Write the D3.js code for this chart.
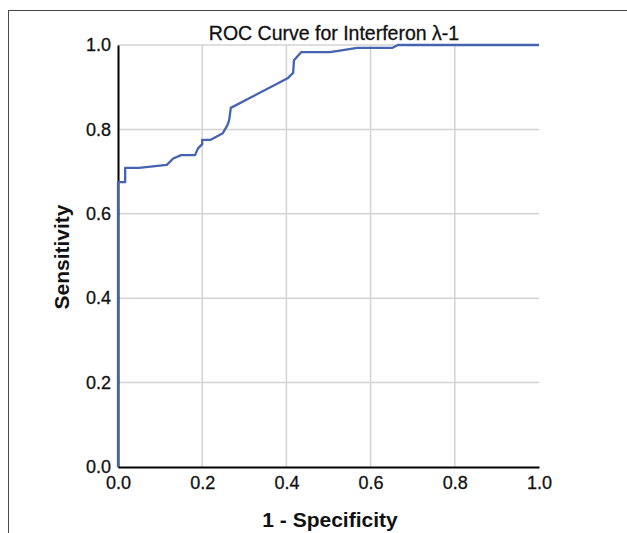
<!DOCTYPE html>
<html>
<head>
<meta charset="utf-8">
<script src="https://cdn.jsdelivr.net/npm/d3@7"></script>
<style>
  html, body { margin: 0; padding: 0; background: #fff; }
  svg { display: block; font-family: "Liberation Sans", Arial, sans-serif; }
</style>
</head>
<body>
<svg id="chart" width="627" height="533"></svg>
<script>
// ROC curve: false positive rate (1 - specificity) vs. true positive rate (sensitivity)
const fpr = [0, 0, 0.017, 0.017, 0.05, 0.116, 0.131, 0.150, 0.183, 0.190, 0.200, 0.200, 0.219, 0.249, 0.260, 0.264, 0.268, 0.404, 0.416, 0.418, 0.435, 0.504, 0.568, 0.651, 0.665, 1.0];
const tpr = [0, 0.675, 0.675, 0.709, 0.709, 0.716, 0.731, 0.739, 0.739, 0.755, 0.765, 0.775, 0.775, 0.791, 0.810, 0.822, 0.851, 0.922, 0.934, 0.964, 0.983, 0.983, 0.993, 0.993, 1.0, 1.0];
const xTicks = [0, 0.2, 0.4, 0.6, 0.8, 1.0];
const yTicks = [0, 0.2, 0.4, 0.6, 0.8, 1.0];
const chartTitle = "ROC Curve for Interferon λ-1";
const xTitle = "1 - Specificity";
const yTitle = "Sensitivity";

const svg = d3.select("#chart");
const x = d3.scaleLinear().domain([0, 1]).range([118, 539]);
const y = d3.scaleLinear().domain([0, 1]).range([467, 45]);

// outer frame
svg.append("rect")
  .attr("x", 8.5).attr("y", 10.5)
  .attr("width", 700).attr("height", 600)
  .attr("fill", "#fff").attr("stroke", "#4a4a4a").attr("stroke-width", 1);

// gridlines
const grid = svg.append("g").attr("stroke", "#d3d3d3").attr("stroke-width", 1.5);
grid.selectAll("line.v").data(xTicks.filter(d => d > 0 && d < 1)).join("line")
  .attr("class", "v")
  .attr("x1", d => x(d)).attr("x2", d => x(d))
  .attr("y1", y(1)).attr("y2", y(0));
grid.selectAll("line.h").data(yTicks.filter(d => d > 0)).join("line")
  .attr("class", "h")
  .attr("x1", x(0)).attr("x2", x(1))
  .attr("y1", d => y(d)).attr("y2", d => y(d));

// axes
const fmt = d3.format(".1f");
const xAxis = svg.append("g")
  .attr("transform", `translate(0,${y(0)})`)
  .call(d3.axisBottom(x).tickValues(xTicks).tickFormat(fmt).tickSize(0).tickPadding(9));
const yAxis = svg.append("g")
  .attr("transform", `translate(${x(0)},0)`)
  .call(d3.axisLeft(y).tickValues(yTicks).tickFormat(fmt).tickSize(0).tickPadding(7));
[xAxis, yAxis].forEach(a => {
  a.select(".domain").attr("stroke", "#000").attr("stroke-width", 2);
  a.selectAll("text").attr("fill", "#111")
    .attr("stroke", "#111").attr("stroke-width", 0.3)
    .style("font-size", "18px")
    .style("font-family", '"Liberation Sans", Arial, sans-serif');
});

// curve
const pts = fpr.map((v, i) => [v, tpr[i]]);
svg.append("path")
  .datum(pts)
  .attr("fill", "none")
  .attr("stroke", "#4563b0")
  .attr("stroke-width", 2.3)
  .attr("stroke-linejoin", "round")
  .attr("d", d3.line().x(d => x(d[0])).y(d => y(d[1])));

// titles
svg.append("text")
  .attr("x", 334).attr("y", 40)
  .attr("text-anchor", "middle")
  .attr("fill", "#111")
  .attr("stroke", "#111").attr("stroke-width", 0.3)
  .style("font-size", "19.5px")
  .text(chartTitle);

svg.append("text")
  .attr("x", 330).attr("y", 527)
  .attr("text-anchor", "middle")
  .attr("fill", "#111")
  .style("font-size", "21px").style("font-weight", "bold")
  .text(xTitle);

svg.append("text")
  .attr("transform", "translate(69,257) rotate(-90)")
  .attr("text-anchor", "middle")
  .attr("fill", "#111")
  .style("font-size", "21px").style("font-weight", "bold")
  .text(yTitle);
</script>
</body>
</html>
